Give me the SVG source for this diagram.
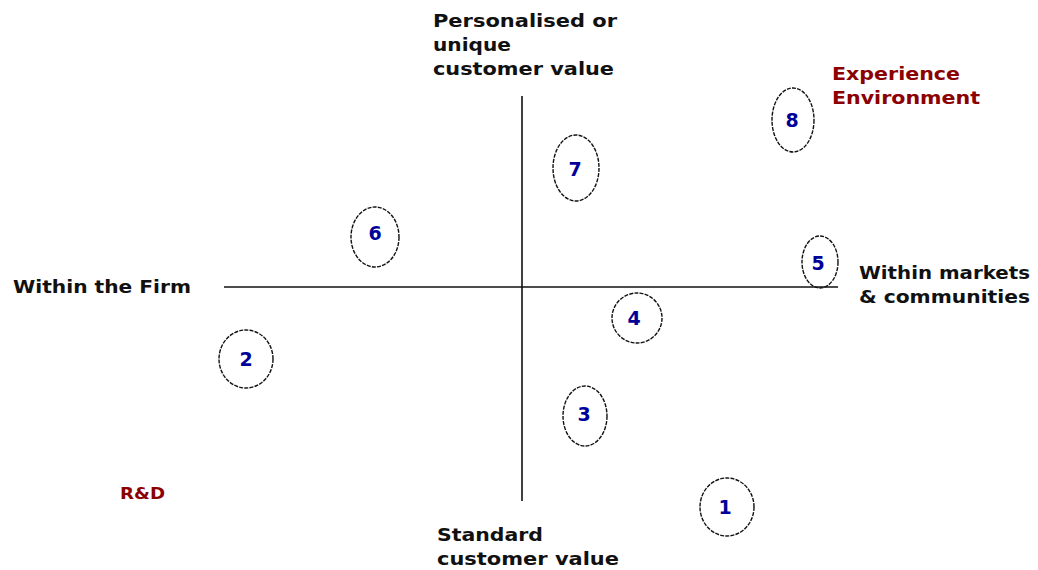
<svg xmlns="http://www.w3.org/2000/svg" width="1038" height="570" viewBox="0 0 1038 570">
<style>
.lbl{font-family:"DejaVu Sans","Verdana",sans-serif;font-weight:bold;font-size:17px;fill:#111;}
.red{fill:#8b0000;}
.num{font-family:"DejaVu Sans","Verdana",sans-serif;font-weight:bold;font-size:19px;fill:#000099;text-anchor:middle;}
.ell{fill:none;stroke:#111;stroke-width:1.4;stroke-dasharray:4 1.2;}
.axis{stroke:#111;stroke-width:1.6;fill:none;}
</style>
<rect width="1038" height="570" fill="#fff"/>
<g id="connectors">
<line class="axis" x1="522" y1="96" x2="522" y2="501"/>
<line class="axis" x1="224" y1="287" x2="838" y2="287"/>
</g>
<g id="label-top">
<text class="lbl" x="433" y="27" textLength="184" lengthAdjust="spacingAndGlyphs">Personalised or</text>
<text class="lbl" x="433" y="51" textLength="78" lengthAdjust="spacingAndGlyphs">unique</text>
<text class="lbl" x="433" y="75" textLength="181" lengthAdjust="spacingAndGlyphs">customer value</text>
</g>
<g id="label-left"><text class="lbl" x="13" y="293" textLength="178" lengthAdjust="spacingAndGlyphs">Within the Firm</text></g>
<g id="label-right">
<text class="lbl" x="859" y="279" textLength="171" lengthAdjust="spacingAndGlyphs">Within markets</text>
<text class="lbl" x="859" y="303" textLength="171" lengthAdjust="spacingAndGlyphs">&amp; communities</text>
</g>
<g id="label-bottom">
<text class="lbl" x="437" y="541" textLength="106" lengthAdjust="spacingAndGlyphs">Standard</text>
<text class="lbl" x="437" y="565" textLength="182" lengthAdjust="spacingAndGlyphs">customer value</text>
</g>
<g id="label-experience">
<text class="lbl red" x="832" y="80" textLength="128" lengthAdjust="spacingAndGlyphs">Experience</text>
<text class="lbl red" x="832" y="104" textLength="148" lengthAdjust="spacingAndGlyphs">Environment</text>
</g>
<g id="label-rd"><text class="lbl red" x="120" y="499" style="font-size:15px" textLength="45" lengthAdjust="spacingAndGlyphs">R&amp;D</text></g>
<g id="node1"><ellipse class="ell" cx="727" cy="507" rx="27" ry="29"/><text class="num" x="725" y="514">1</text></g>
<g id="node2"><ellipse class="ell" cx="246" cy="359" rx="27" ry="29"/><text class="num" x="246" y="366">2</text></g>
<g id="node3"><ellipse class="ell" cx="585" cy="416" rx="22" ry="30"/><text class="num" x="584" y="421">3</text></g>
<g id="node4"><ellipse class="ell" cx="637" cy="318" rx="25" ry="25"/><text class="num" x="634" y="325">4</text></g>
<g id="node5"><ellipse class="ell" cx="820" cy="262" rx="18" ry="26"/><text class="num" x="818" y="270">5</text></g>
<g id="node6"><ellipse class="ell" cx="375" cy="237" rx="24" ry="30"/><text class="num" x="375" y="240">6</text></g>
<g id="node7"><ellipse class="ell" cx="576" cy="168" rx="23" ry="33"/><text class="num" x="575" y="176">7</text></g>
<g id="node8"><ellipse class="ell" cx="793" cy="120" rx="21" ry="32"/><text class="num" x="792" y="127">8</text></g>
</svg>
